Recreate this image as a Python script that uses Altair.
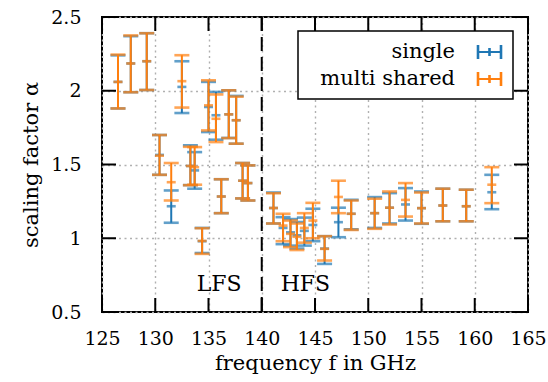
import altair as alt
import pandas as pd

# Measurement frequencies in GHz (shared by both fits)
freq = [126.5, 127.7, 129.2, 130.4, 131.5, 132.5, 133.3, 133.7, 134.4, 135.0,
        135.7, 136.2, 136.9, 137.6, 138.2, 138.7,
        141.1, 142.0, 142.7, 143.3, 144.0, 144.8, 145.9, 147.2, 148.4,
        150.6, 152.0, 153.5, 155.0, 157.0, 159.2, 161.6]

# "single" fit: lower bound, estimate, upper bound of alpha
single_lo = [1.88, 1.99, 2.005, 1.43, 1.105, 1.849, 1.36, 1.336, 0.90, 1.72,
             1.668, 1.17, 1.68, 1.641, 1.27, 1.256,
             1.10, 0.96, 0.95, 0.93, 0.95, 0.98, 0.826, 1.007, 1.06,
             1.07, 1.10, 1.12, 1.098, 1.115, 1.115, 1.197]
single_mid = [2.06, 2.185, 2.20, 1.565, 1.217, 2.026, 1.49, 1.46, 0.98, 1.89,
              1.834, 1.283, 1.84, 1.80, 1.39, 1.374,
              1.205, 1.07, 1.04, 1.02, 1.05, 1.09, 0.93, 1.109, 1.166,
              1.17, 1.207, 1.229, 1.204, 1.222, 1.217, 1.312]
single_hi = [2.24, 2.37, 2.39, 1.70, 1.324, 2.20, 1.63, 1.584, 1.07, 2.06,
             1.992, 1.40, 2.003, 1.965, 1.51, 1.494,
             1.31, 1.143, 1.13, 1.11, 1.14, 1.20, 1.014, 1.207, 1.26,
             1.279, 1.306, 1.34, 1.317, 1.336, 1.329, 1.43]

# "multi shared" fit
multi_lo = [1.88, 1.99, 2.005, 1.43, 1.256, 1.886, 1.36, 1.363, 0.894, 1.731,
            1.652, 1.17, 1.679, 1.641, 1.27, 1.256,
            1.10, 0.98, 0.94, 0.92, 0.97, 1.00, 0.849, 1.17, 1.057,
            1.064, 1.093, 1.147, 1.10, 1.115, 1.115, 1.238]
multi_mid = [2.06, 2.185, 2.20, 1.56, 1.38, 2.065, 1.49, 1.482, 0.982, 1.901,
             1.81, 1.283, 1.84, 1.80, 1.39, 1.374,
             1.205, 1.086, 1.03, 1.01, 1.07, 1.12, 0.928, 1.28, 1.166,
             1.17, 1.207, 1.26, 1.204, 1.222, 1.217, 1.363]
multi_hi = [2.245, 2.375, 2.39, 1.70, 1.51, 2.241, 1.62, 1.618, 1.068, 2.071,
            1.975, 1.40, 2.003, 1.96, 1.51, 1.494,
            1.305, 1.166, 1.12, 1.10, 1.17, 1.24, 1.014, 1.39, 1.256,
            1.268, 1.317, 1.374, 1.31, 1.336, 1.329, 1.482]

x_ticks = [125, 130, 135, 140, 145, 150, 155, 160, 165]
y_ticks = [0.5, 1.0, 1.5, 2.0, 2.5]

region_labels = ["LFS", "HFS"]
region_x = [136.0, 144.1]
region_y = [0.69, 0.69]

BLUE = "#1f77b4"
ORANGE = "#ff7f0e"
FONT = "DejaVu Serif"
W, H = 426, 295

single = pd.DataFrame({"f": freq, "lo": single_lo, "mid": single_mid, "hi": single_hi})
multi = pd.DataFrame({"f": freq, "lo": multi_lo, "mid": multi_mid, "hi": multi_hi})

x_scale = alt.Scale(domain=[125, 165], nice=False, zero=False)
y_scale = alt.Scale(domain=[0.5, 2.5], nice=False, zero=False)

x_axis = alt.Axis(values=x_ticks, format="d", title="frequency f in GHz",
                  grid=True, ticks=False, tickSize=0, domain=False,
                  labelFlush=False, labelOverlap=False,
                  labelPadding=17, titlePadding=4)
y_axis = alt.Axis(values=y_ticks, format="~g", title="scaling factor α",
                  grid=True, ticks=False, tickSize=0, domain=False,
                  labelFlush=False, labelOverlap=False,
                  labelPadding=21, titlePadding=9)


def xe(field="f"):
    return alt.X(f"{field}:Q", scale=x_scale, axis=x_axis)


def ye(field):
    return alt.Y(f"{field}:Q", scale=y_scale, axis=y_axis)


def errorbars(df, color):
    base = alt.Chart(df)
    stem = base.mark_rule(color=color, strokeWidth=2).encode(
        x=xe(), y=ye("lo"), y2="hi:Q")
    caps = [
        base.mark_tick(color=color, orient="horizontal", size=15, thickness=2.6).encode(
            x=xe(), y=ye(fld))
        for fld in ("lo", "hi")
    ]
    centre = base.mark_tick(color=color, orient="horizontal", size=9, thickness=2.6).encode(
        x=xe(), y=ye("mid"))
    return [stem] + caps + [centre]


# LFS / HFS separator
separator = alt.Chart(pd.DataFrame({"f": [140]})).mark_rule(
    color="black", strokeWidth=2, strokeDash=[14, 6]).encode(x=xe())

regions = alt.Chart(pd.DataFrame({"f": region_x, "v": region_y, "t": region_labels})).mark_text(
    font=FONT, fontSize=22, baseline="middle", align="center", color="black").encode(
    x=xe(), y=ye("v"), text="t:N")

# inward pointing ticks on all four sides of the frame
xt = alt.Chart(pd.DataFrame({"f": x_ticks}))
yt = alt.Chart(pd.DataFrame({"v": y_ticks}))
tick_style = dict(color="black", strokeWidth=2)
ticks = [
    xt.mark_rule(**tick_style).encode(x=xe(), y=alt.value(H), y2=alt.value(H - 14)),
    xt.mark_rule(**tick_style).encode(x=xe(), y=alt.value(0), y2=alt.value(14)),
    yt.mark_rule(**tick_style).encode(y=ye("v"), x=alt.value(0), x2=alt.value(14)),
    yt.mark_rule(**tick_style).encode(y=ye("v"), x=alt.value(W), x2=alt.value(W - 14)),
]

# legend box
one = alt.Chart(pd.DataFrame({"k": [0]}))
legend = [
    one.mark_rect(fill="white", stroke="black", strokeWidth=1.5).encode(
        x=alt.value(196), x2=alt.value(411), y=alt.value(14), y2=alt.value(82)),
]
for label, color, yc in [("single", BLUE, 35), ("multi shared", ORANGE, 62)]:
    legend += [
        one.mark_text(text=label, font=FONT, fontSize=21, align="right",
                      baseline="alphabetic", color="black").encode(
            x=alt.value(353), y=alt.value(yc + 6)),
        one.mark_rule(color=color, strokeWidth=2).encode(
            x=alt.value(376), x2=alt.value(399), y=alt.value(yc)),
        one.mark_rule(color=color, strokeWidth=2.6).encode(
            x=alt.value(376), y=alt.value(yc - 7), y2=alt.value(yc + 7)),
        one.mark_rule(color=color, strokeWidth=2.6).encode(
            x=alt.value(399), y=alt.value(yc - 7), y2=alt.value(yc + 7)),
        one.mark_rule(color=color, strokeWidth=2.6).encode(
            x=alt.value(387.5), y=alt.value(yc - 4), y2=alt.value(yc + 4)),
    ]

layers = ([separator, regions] + errorbars(single, BLUE) + errorbars(multi, ORANGE)
          + ticks + legend)

chart = alt.layer(*layers).properties(
    width=W, height=H,
    background="white",
    autosize=alt.AutoSizeParams(type="none"),
    padding={"left": 102, "top": 17, "right": 20, "bottom": 70},
).configure_view(
    stroke="black", strokeWidth=2
).configure_axis(
    labelFont=FONT, labelFontSize=19, labelColor="black",
    titleFont=FONT, titleFontSize=21, titleColor="black", titleFontWeight="normal",
    gridColor="#b0b0b0", gridDash=[2, 3.5], gridWidth=1.4, gridOpacity=1,
)

chart.save("out.html", embed_options={"renderer": "svg", "actions": False})
